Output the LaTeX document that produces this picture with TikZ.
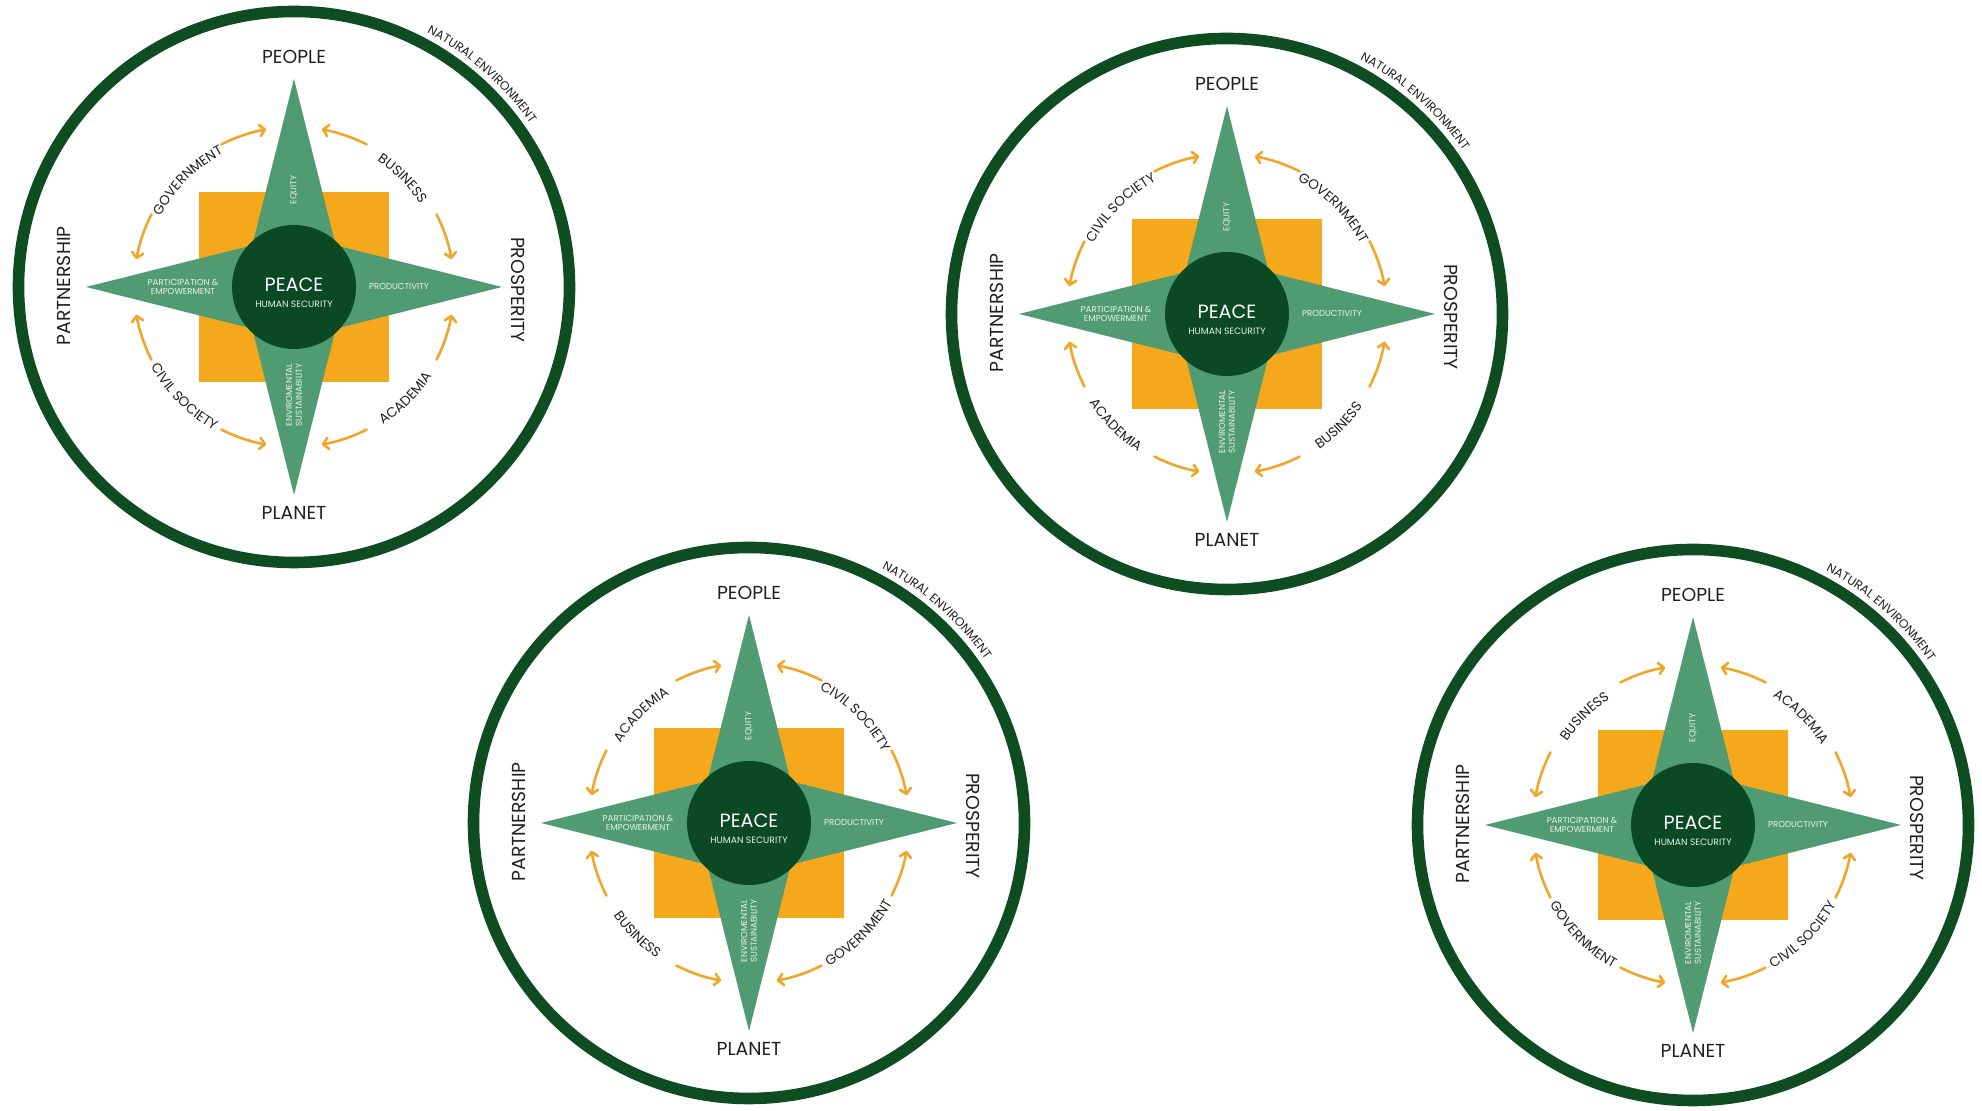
\documentclass[tikz,border=0pt]{standalone}
\usepackage{fontspec}
\setmainfont{Poppins}
\usetikzlibrary{arrows.meta,decorations.text}
\definecolor{ringgreen}{HTML}{0E4C22}
\definecolor{stargreen}{HTML}{519B72}
\definecolor{coregreen}{HTML}{0B4824}
\definecolor{sqorange}{HTML}{F5A81C}
\definecolor{arroworange}{HTML}{F1A62B}
\definecolor{labelgray}{HTML}{231F20}
\definecolor{startext}{HTML}{E8F2EA}
\newcommand{\bigfont}{\fontsize{9.4}{10}\selectfont}
\newcommand{\natfont}{\fontsize{6.1}{7}\selectfont\color{labelgray}}
\newcommand{\actfont}{\fontsize{6.8}{7}\selectfont\color{labelgray}}
\tikzset{
  ring/.style={draw=ringgreen, line width=5.8pt},
  sqbox/.style={fill=sqorange},
  starshape/.style={fill=stargreen},
  core/.style={circle, fill=coregreen, minimum size=62pt, inner sep=0pt},
  peacetxt/.style={text=white, font=\fontsize{9.6}{10}\selectfont, inner sep=0pt},
  hstxt/.style={text=startext, font=\fontsize{4.6}{5}\selectfont, inner sep=0pt},
  startxt/.style={text=startext, font=\fontsize{4.3}{4.9}\selectfont, inner sep=0pt, align=center},
  bigtxt/.style={text=labelgray, font=\bigfont, inner sep=0pt},
  arr/.style={draw=arroworange, line width=1.3pt, line cap=round, -{Straight Barb[length=2.6pt,width=5.6pt,round]}},
}
% #1 prefix, #2 x, #3 y, #4 TL, #5 TR, #6 BL, #7 BR
\newcommand{\compass}[7]{%
\begin{scope}[shift={(#2,#3)}]
  \fill[sqbox] (-95,-95) rectangle (95,95);
  \fill[starshape] (90:208) -- (45:59) -- (0:208) -- (-45:59) -- (-90:208) -- (-135:59) -- (180:208) -- (135:59) -- cycle;
  \node[core] (#1-core) at (0,0) {};
  \node[peacetxt] (#1-peace) at (0,2) {PEACE};
  \node[hstxt] (#1-hs) at (0,-17) {HUMAN SECURITY};
  \node[startxt, rotate=90] (#1-eq) at (0,97) {EQUITY};
  \node[startxt] (#1-prod) at (105,0) {PRODUCTIVITY};
  \node[startxt] (#1-part) at (-111,0) {PARTICIPATION \&\\EMPOWERMENT};
  \node[startxt, rotate=90] (#1-env) at (0,-108) {ENVIROMENTAL\\SUSTAINABILITY};
  \node[bigtxt] (#1-people) at (0,230) {PEOPLE};
  \node[bigtxt] (#1-planet) at (0,-226) {PLANET};
  \node[bigtxt, rotate=90] (#1-partner) at (-230,1) {PARTNERSHIP};
  \node[bigtxt, rotate=-90] (#1-prosp) at (224,-3) {PROSPERITY};
  \draw[ring] (0,0) circle (275.5);
  \path[decorate, decoration={text along path, text={|\natfont|NATURAL ENVIRONMENT}, text align=center}]
    (88.5:287) arc[start angle=88.5, end angle=8.5, radius=287];
  \foreach \t in {45,135,225,315}{
    \draw[arr] ({\t+18}:160) arc[start angle=\t+18, end angle=\t+35, radius=160];
    \draw[arr] ({\t-18}:160) arc[start angle=\t-18, end angle=\t-35, radius=160];
  }
  \path[decorate, decoration={text along path, text={|\actfont|#4}, text align=center}]
    (175:151) arc[start angle=175, end angle=95, radius=151];
  \path[decorate, decoration={text along path, text={|\actfont|#5}, text align=center}]
    (85:151) arc[start angle=85, end angle=5, radius=151];
  \path[decorate, decoration={text along path, text={|\actfont|#6}, text align=center}]
    (185:164) arc[start angle=185, end angle=265, radius=164];
  \path[decorate, decoration={text along path, text={|\actfont|#7}, text align=center}]
    (275:164) arc[start angle=275, end angle=355, radius=164];
\end{scope}}
\begin{document}
\begin{tikzpicture}[x=0.5pt,y=0.5pt]
  \useasboundingbox[fill=white] (0,0) rectangle (1982,1111);
  \compass{da}{294}{824}{GOVERNMENT}{BUSINESS}{CIVIL SOCIETY}{ACADEMIA}
  \compass{db}{1227}{797}{CIVIL SOCIETY}{GOVERNMENT}{ACADEMIA}{BUSINESS}
  \compass{dc}{749}{288}{ACADEMIA}{CIVIL SOCIETY}{BUSINESS}{GOVERNMENT}
  \compass{dd}{1693}{286}{BUSINESS}{ACADEMIA}{GOVERNMENT}{CIVIL SOCIETY}
\end{tikzpicture}
\end{document}
